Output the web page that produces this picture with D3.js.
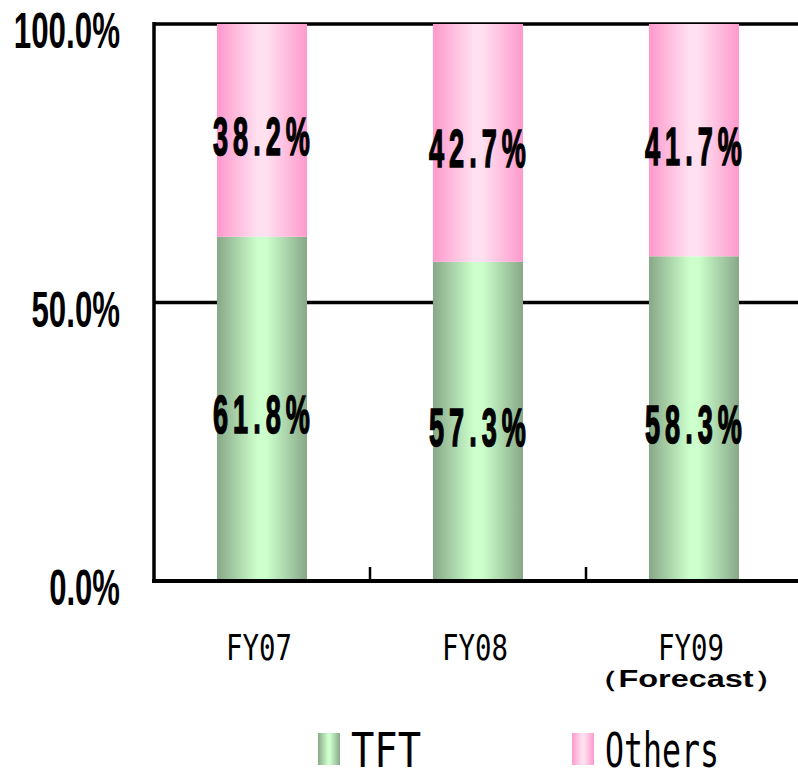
<!DOCTYPE html>
<html>
<head>
<meta charset="utf-8">
<script src="https://cdn.jsdelivr.net/npm/d3@7"></script>
<style>
html,body{margin:0;padding:0;background:#fff;}
svg{display:block;}
</style>
</head>
<body>
<script>
// ---- data ----
const categories = ["FY07", "FY08", "FY09"];
const subLabels = ["", "", "（Forecast）"];
const tftValues = [61.8, 57.3, 58.3];
const otherValues = [38.2, 42.7, 41.7];
const seriesNames = ["TFT", "Others"];
const yTicks = [0, 50, 100];
const yTickLabels = ["0.0%", "50.0%", "100.0%"];

(function () {
const W = 798, H = 770;
const svg = d3.select("body").append("svg").attr("width", W).attr("height", H);
const MONO = "DejaVu Sans Mono, Liberation Mono, monospace";
const SANS = "Liberation Sans, Arial, sans-serif";

const defs = svg.append("defs");
function grad(id, edge, center) {
  const g = defs.append("linearGradient").attr("id", id)
    .attr("x1", "0%").attr("x2", "100%").attr("y1", "0%").attr("y2", "0%");
  g.append("stop").attr("offset", "0%").attr("stop-color", edge);
  g.append("stop").attr("offset", "45%").attr("stop-color", center);
  g.append("stop").attr("offset", "55%").attr("stop-color", center);
  g.append("stop").attr("offset", "100%").attr("stop-color", edge);
}
grad("gTFT", "#88a888", "#ccffcc");
grad("gOth", "#ff99cc", "#ffe0f0");
const fills = ["url(#gTFT)", "url(#gOth)"];

const pL = 154, pR = 802, pT = 24, pB = 581;
const x = d3.scaleBand().domain(categories).range([pL, pR])
  .paddingInner(0.583).paddingOuter(0.2915);
const y = d3.scaleLinear().domain([0, 100]).range([pB, pT]);

// gridlines
svg.append("g").selectAll("line").data(yTicks.filter(t => t > 0)).join("line")
  .attr("x1", pL).attr("x2", W)
  .attr("y1", d => y(d)).attr("y2", d => y(d))
  .attr("stroke", "#000").attr("stroke-width", 3.5);

// stacked bars
const rows = categories.map((c, i) => ({cat: c, TFT: tftValues[i], Others: otherValues[i]}));
const stack = d3.stack().keys(seriesNames)(rows);
const layers = svg.append("g").selectAll("g").data(stack).join("g")
  .attr("fill", (d, i) => fills[i]);
layers.selectAll("rect").data(d => d).join("rect")
  .attr("x", d => x(d.data.cat))
  .attr("width", x.bandwidth())
  .attr("y", d => y(d[1]))
  .attr("height", d => y(d[0]) - y(d[1]));

// data labels
layers.selectAll("text").data(d => d.map(v => ({v, key: d.key}))).join("text")
  .attr("x", d => x(d.v.data.cat) + x.bandwidth() / 2 + 2)
  .attr("y", d => (y(d.v[0]) + y(d.v[1])) / 2 + 5 + 19.5)
  .attr("text-anchor", "middle")
  .attr("font-family", SANS)
  .attr("font-weight", "bold")
  .attr("font-size", 54)
  .attr("letter-spacing", 10)
  .attr("fill", "#000")
  .attr("stroke", "#000").attr("stroke-width", 1.6)
  .attr("textLength", 102).attr("lengthAdjust", "spacingAndGlyphs")
  .text(d => d.v.data[d.key].toFixed(1) + "%");

// axes lines
svg.append("line").attr("x1", pL).attr("x2", pL).attr("y1", pT - 2).attr("y2", pB + 2)
  .attr("stroke", "#000").attr("stroke-width", 3.5);
svg.append("line").attr("x1", pL - 2).attr("x2", W).attr("y1", pB).attr("y2", pB)
  .attr("stroke", "#000").attr("stroke-width", 4);

// x tick marks between categories
const bounds = categories.slice(1).map(c => x(c) - x.step() * x.paddingInner() / 2);
svg.append("g").selectAll("line").data(bounds).join("line")
  .attr("x1", d => d).attr("x2", d => d)
  .attr("y1", pB).attr("y2", pB - 14)
  .attr("stroke", "#000").attr("stroke-width", 2.5);

// y tick labels
svg.append("g").selectAll("text").data(yTicks).join("text")
  .attr("x", 120)
  .attr("y", d => y(d) + 24)
  .attr("text-anchor", "end")
  .attr("font-family", SANS)
  .attr("font-weight", "bold")
  .attr("font-size", 50)
  .attr("textLength", (d, i) => yTickLabels[i].length * 17.7)
  .attr("lengthAdjust", "spacingAndGlyphs")
  .text((d, i) => yTickLabels[i]);

// x labels
svg.append("g").selectAll("text").data(categories).join("text")
  .attr("x", d => x(d) + x.bandwidth() / 2 - 3)
  .attr("y", 660)
  .attr("text-anchor", "middle")
  .attr("font-family", MONO)
  .attr("font-size", 36)
  .attr("textLength", 66).attr("lengthAdjust", "spacingAndGlyphs")
  .text(d => d);
svg.append("g").selectAll("text").data(subLabels.map((s, i) => ({s, c: categories[i]})).filter(d => d.s)).join("text")
  .attr("x", d => x(d.c) + x.bandwidth() / 2 - 8)
  .attr("y", 687)
  .attr("text-anchor", "middle")
  .attr("font-family", SANS)
  .attr("font-weight", "bold")
  .attr("font-size", 23)
  .attr("textLength", 200).attr("lengthAdjust", "spacingAndGlyphs")
  .text(d => d.s);

// legend
const legX = [318, 572];
const legW = [70, 114];
const leg = svg.append("g").selectAll("g").data(seriesNames).join("g")
  .attr("transform", (d, i) => `translate(${legX[i]},733)`);
leg.append("rect").attr("width", 22).attr("height", 32).attr("fill", (d, i) => fills[i]);
leg.append("text").attr("x", 33).attr("y", 34)
  .attr("font-family", MONO)
  .attr("font-size", 48)
  .attr("textLength", (d, i) => legW[i]).attr("lengthAdjust", "spacingAndGlyphs")
  .text(d => d);
})();
</script>
</body>
</html>
